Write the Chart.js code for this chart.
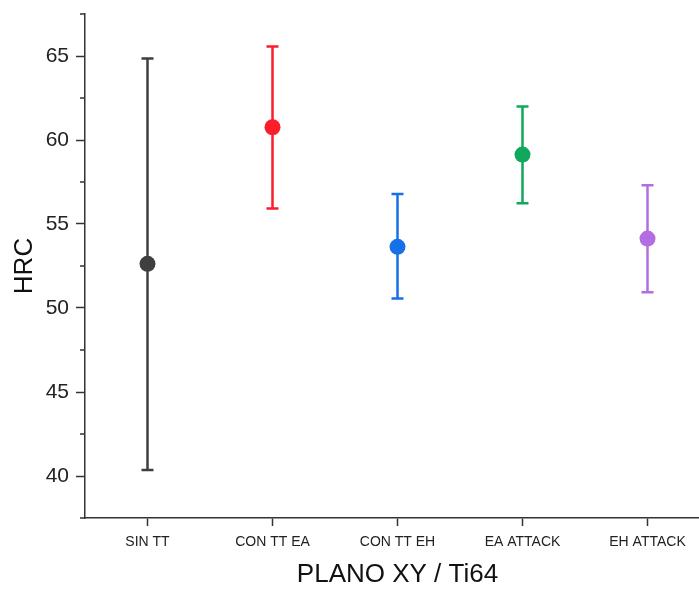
<!DOCTYPE html>
<html>
<head>
<meta charset="utf-8">
<script src="https://cdn.jsdelivr.net/npm/chart.js@4.4.1/dist/chart.umd.min.js"></script>
<style>
  html, body { margin: 0; padding: 0; background: #fff; overflow: hidden; }
  #wrap { width: 720px; height: 589px; }
</style>
</head>
<body>
<div id="wrap"><canvas id="chart"></canvas></div>
<script>
const categories = ['SIN TT', 'CON TT EA', 'CON TT EH', 'EA ATTACK', 'EH ATTACK'];
const hrcMean  = [52.63, 60.76, 53.64, 59.13, 54.13];
const hrcUpper = [64.85, 65.56, 56.79, 62.00, 57.30];
const hrcLower = [40.36, 55.93, 50.56, 56.23, 50.94];
const pointColors = ['#3f3f3f', '#fa1e2d', '#1670e8', '#10a85a', '#b26de2'];

const FONT = 'Liberation Sans, Arial, sans-serif';

// barras de error + ticks menores del eje Y
const errorBars = {
  id: 'errorBars',
  beforeDatasetsDraw(chart) {
    const ctx = chart.ctx;
    const x = chart.scales.x, y = chart.scales.y;
    ctx.save();
    ctx.lineWidth = 2.5;
    hrcMean.forEach((m, i) => {
      const px = x.getPixelForValue(i);
      const top = y.getPixelForValue(hrcUpper[i]);
      const bot = y.getPixelForValue(hrcLower[i]);
      ctx.strokeStyle = pointColors[i];
      ctx.beginPath();
      ctx.moveTo(px, top); ctx.lineTo(px, bot);
      ctx.moveTo(px - 6, top); ctx.lineTo(px + 6, top);
      ctx.moveTo(px - 6, bot); ctx.lineTo(px + 6, bot);
      ctx.stroke();
    });
    ctx.restore();
  },
  afterDraw(chart) {
    const ctx = chart.ctx;
    const y = chart.scales.y;
    ctx.save();
    ctx.strokeStyle = '#333';
    ctx.lineWidth = 1.5;
    y.ticks.forEach(t => {
      if (t.value % 5 === 0) return;
      const py = y.getPixelForValue(t.value);
      ctx.beginPath();
      ctx.moveTo(y.right - 5, py); ctx.lineTo(y.right, py);
      ctx.stroke();
    });
    ctx.restore();
  }
};

new Chart(document.getElementById('chart'), {
  type: 'line',
  data: {
    labels: categories,
    datasets: [{
      data: hrcMean,
      showLine: false,
      pointRadius: 8,
      pointHoverRadius: 8,
      pointBorderWidth: 0,
      pointBackgroundColor: pointColors,
      pointBorderColor: pointColors
    }]
  },
  options: {
    responsive: true,
    maintainAspectRatio: false,
    devicePixelRatio: 1,
    animation: false,
    layout: { padding: { top: 14, right: 10, left: 0, bottom: 0 } },
    plugins: { legend: { display: false }, tooltip: { enabled: false } },
    scales: {
      x: {
        type: 'category',
        offset: true,
        afterFit: s => { s.height = 71; s.paddingLeft = 0; s.paddingRight = 0; },
        border: { color: '#333', width: 1.5 },
        grid: { drawOnChartArea: false, tickLength: 8, tickWidth: 1.5, tickColor: '#333', offset: false },
        ticks: { color: '#222', font: { family: FONT, size: 14 }, padding: 8, maxRotation: 0, autoSkip: false },
        title: { display: true, text: 'PLANO XY / Ti64', color: '#111', font: { family: FONT, size: 26 }, padding: { top: 0, bottom: -1 } }
      },
      y: {
        min: 37.5,
        max: 67.5,
        afterFit: s => { s.width = 85; s.paddingTop = 0; s.paddingBottom = 0; },
        border: { color: '#333', width: 1.5 },
        grid: {
          drawOnChartArea: false,
          tickLength: 9,
          tickWidth: 1.5,
          tickColor: c => (c.tick && c.tick.value % 5 === 0) ? '#333' : 'rgba(0,0,0,0)'
        },
        ticks: {
          stepSize: 2.5,
          color: '#222',
          font: { family: FONT, size: 21 },
          padding: 7,
          callback: v => v % 5 === 0 ? v : ''
        },
        title: { display: true, text: 'HRC', color: '#111', font: { family: FONT, size: 26 }, padding: { top: 9, bottom: 0 } }
      }
    }
  },
  plugins: [errorBars]
});
</script>
</body>
</html>
